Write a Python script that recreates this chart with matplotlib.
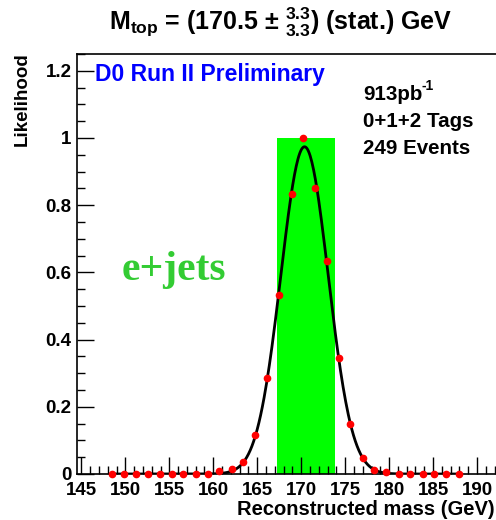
import numpy as np
import matplotlib
matplotlib.use('Agg')
import matplotlib.pyplot as plt
from matplotlib.ticker import MultipleLocator, FixedLocator

plt.rcParams['font.family'] = 'Liberation Sans'
plt.rcParams['font.weight'] = 'bold'
plt.rcParams['mathtext.fontset'] = 'custom'
plt.rcParams['mathtext.rm'] = 'Liberation Sans:bold'
plt.rcParams['mathtext.bf'] = 'Liberation Sans:bold'
plt.rcParams['mathtext.it'] = 'Liberation Sans:bold'

# likelihood points
mass = [148.5, 149.9, 151.2, 152.6, 153.9, 155.3, 156.6, 158.0, 159.4, 160.7,
        162.1, 163.4, 164.8, 166.1, 167.5, 168.9, 170.2, 171.6, 172.9, 174.3,
        175.6, 177.0, 178.3, 179.7, 181.1, 182.4, 183.8, 185.1, 186.5, 187.9]
like = [0.0, 0.0, 0.0, 0.0, 0.0, 0.0, 0.0, 0.0, 0.0, 0.008,
        0.015, 0.037, 0.115, 0.287, 0.534, 0.833, 0.999, 0.852, 0.633, 0.344,
        0.149, 0.049, 0.013, 0.005, 0.0, 0.0, 0.0, 0.0, 0.0, 0.0]

m_top = 170.5
err_lo = 3.3
err_hi = 3.3

W, H = 496, 520
fig = plt.figure(figsize=(W / 100, H / 100), dpi=100)
ax = fig.add_axes([77 / W, 46 / H, 444 / W, 420 / H])

# error band
ax.bar(m_top - err_lo, 1.0, width=err_lo + err_hi, align='edge',
       color='#00ff00', zorder=1)

# gaussian fit through the points (log-parabola)
m = np.array(mass)
l = np.array(like)
sel = l > 0.03
c = np.polyfit(m[sel], np.log(l[sel]), 2, w=l[sel])
xf = np.linspace(m[0], m[-1], 400)
ax.plot(xf, np.exp(np.polyval(c, xf)), color='black', lw=2.0, zorder=3)

ax.plot(mass, like, 'o', color='red', ms=4.5, zorder=4, clip_on=False)

ax.set_xlim(144.5, 195)
ax.set_ylim(0, 1.25)
ax.xaxis.set_major_locator(FixedLocator(list(range(145, 195, 5))))
ax.xaxis.set_minor_locator(MultipleLocator(1))
ax.yaxis.set_major_locator(MultipleLocator(0.2))
ax.yaxis.set_minor_locator(MultipleLocator(0.05))
ax.yaxis.set_major_formatter(plt.FuncFormatter(lambda v, p: '%g' % round(v, 2)))
ax.tick_params(which='both', direction='in', top=False, right=False,
               labelsize=13.5, width=1)
ax.tick_params(which='major', length=12)
ax.tick_params(axis='y', which='major', pad=4)
ax.tick_params(axis='x', which='major', pad=5.5)
ax.tick_params(which='minor', length=6)
for s in ax.spines.values():
    s.set_linewidth(1.2)
ax.spines['right'].set_visible(False)

def px(x, y):
    return x / W, 1 - y / H

fig.text(*px(495, 515), 'Reconstructed mass (GeV)', ha='right', va='baseline',
         fontsize=14.5, fontweight='bold')
fig.text(*px(22, 52), 'Likelihood', rotation=90, ha='center', va='top',
         fontsize=13.5, fontweight='bold')
fig.text(*px(281, 30), r'$\mathbf{M}_{\mathbf{top}}$ = (170.5 $\pm$ ${}^{3.3}_{3.3}$) (stat.) GeV',
         ha='center', va='baseline', fontsize=18, fontweight='bold')
fig.text(*px(95, 81), 'D0 Run II Preliminary', color='blue', ha='left',
         va='baseline', fontsize=16.5, fontweight='bold')
fig.text(*px(363, 100), '913pb', ha='left', va='baseline',
         fontsize=14.8, fontweight='bold')
fig.text(*px(422, 90), '-1', ha='left', va='baseline',
         fontsize=10, fontweight='bold')
fig.text(*px(363, 127), '0+1+2 Tags', ha='left', va='baseline',
         fontsize=14.8, fontweight='bold')
fig.text(*px(363, 154), '249 Events', ha='left', va='baseline',
         fontsize=14.8, fontweight='bold')
fig.text(*px(122, 280), 'e+jets', color='#33cc33', ha='left', va='baseline',
         fontsize=30, fontweight='bold', family='Liberation Serif')

fig.savefig('out.png', dpi=100)
